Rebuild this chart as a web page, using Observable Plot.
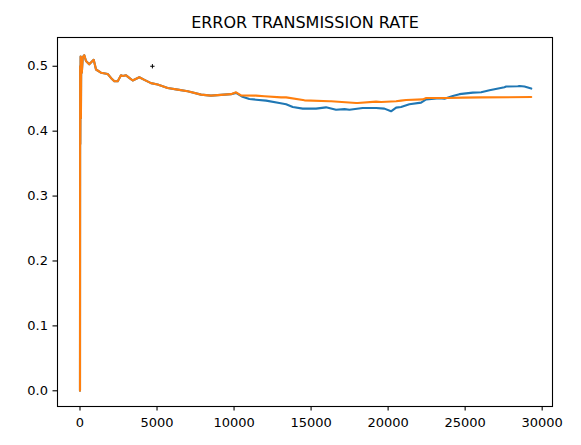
<!DOCTYPE html>
<html>
<head>
<meta charset="utf-8">
<script src="https://cdn.jsdelivr.net/npm/d3@7"></script>
<script src="https://cdn.jsdelivr.net/npm/@observablehq/plot@0.6"></script>
<style>
  html, body { margin: 0; padding: 0; background: #fff; }
  #chart { width: 581px; height: 445px; }
</style>
</head>
<body>
<div id="chart"></div>
<script>
const title = "ERROR TRANSMISSION RATE";

const blueX = [0, 10, 20, 40, 60, 80, 120, 180, 280, 390, 600, 890, 1040, 1360, 1800, 2010, 2230, 2450, 2660, 2770, 2990, 3200, 3420, 3850, 4180, 4610, 5040, 5690, 6340, 6990, 7860, 8500, 9370, 9800, 10130, 10500, 10990, 11430, 12080, 12940, 13380, 13810, 14460, 15320, 15970, 16620, 17170, 17490, 18350, 18460, 19220, 19760, 20190, 20520, 20840, 21380, 22140, 22470, 23330, 23660, 24200, 24630, 25500, 26040, 26580, 27550, 27660, 28420, 28530, 28850, 29290];
const blueY = [0.000, 0.500, 0.380, 0.515, 0.420, 0.510, 0.490, 0.514, 0.517, 0.508, 0.503, 0.510, 0.495, 0.490, 0.488, 0.482, 0.477, 0.477, 0.486, 0.485, 0.486, 0.482, 0.478, 0.483, 0.479, 0.474, 0.472, 0.4665, 0.464, 0.4615, 0.4563, 0.4548, 0.4563, 0.457, 0.459, 0.4535, 0.4495, 0.4485, 0.447, 0.4434, 0.4415, 0.4372, 0.4347, 0.4347, 0.4367, 0.433, 0.434, 0.433, 0.4357, 0.4357, 0.4357, 0.4347, 0.4306, 0.4362, 0.4372, 0.4414, 0.444, 0.449, 0.4506, 0.450, 0.4542, 0.457, 0.4594, 0.4599, 0.463, 0.4676, 0.4687, 0.4691, 0.4696, 0.4687, 0.4656];

const orangeX = [0, 10, 20, 40, 60, 80, 120, 180, 280, 390, 600, 890, 1040, 1360, 1800, 2010, 2230, 2450, 2660, 2770, 2990, 3200, 3420, 3850, 4180, 4610, 5040, 5690, 6340, 6990, 7860, 8500, 9370, 9800, 10130, 10450, 11430, 11970, 13050, 13380, 14570, 16190, 16300, 17920, 18030, 19220, 19550, 20520, 20840, 21170, 22250, 22470, 23880, 24850, 26040, 29290];
const orangeY = [0.000, 0.500, 0.380, 0.515, 0.420, 0.510, 0.490, 0.514, 0.517, 0.508, 0.503, 0.510, 0.495, 0.490, 0.488, 0.482, 0.477, 0.477, 0.486, 0.485, 0.486, 0.482, 0.478, 0.483, 0.479, 0.474, 0.472, 0.4665, 0.464, 0.4615, 0.4563, 0.4548, 0.4563, 0.457, 0.4599, 0.455, 0.4548, 0.4537, 0.452, 0.452, 0.4475, 0.446, 0.446, 0.4434, 0.4434, 0.4455, 0.445, 0.446, 0.447, 0.448, 0.449, 0.451, 0.451, 0.4517, 0.452, 0.4526];

const markerX = [4700];
const markerY = [0.5];

const xTicks = [0, 5000, 10000, 15000, 20000, 25000, 30000];
const yTicks = [0.0, 0.1, 0.2, 0.3, 0.4, 0.5];

const blue = blueX.map((x, i) => ({x, y: blueY[i]}));
const orange = orangeX.map((x, i) => ({x, y: orangeY[i]}));
const marker = markerX.map((x, i) => ({x, y: markerY[i]}));

const chart = Plot.plot({
  width: 581,
  height: 445,
  marginLeft: 57,
  marginRight: 29,
  marginTop: 37,
  marginBottom: 39,
  style: {fontFamily: "DejaVu Sans", fontSize: "13px", color: "#000", background: "#fff", overflow: "visible"},
  x: {domain: [-1460, 30670], label: null},
  y: {domain: [-0.0242, 0.5443], label: null},
  marks: [
    Plot.axisX({ticks: xTicks, tickFormat: "d", tickSize: 4.5, tickPadding: 7, label: null, fontSize: 13, strokeWidth: 1.1}),
    Plot.axisY({ticks: yTicks, tickFormat: ".1f", tickSize: 4.5, tickPadding: 5, label: null, fontSize: 13, strokeWidth: 1.1}),
    Plot.line(blue, {x: "x", y: "y", stroke: "#1f77b4", strokeWidth: 2.1}),
    Plot.line(orange, {x: "x", y: "y", stroke: "#ff7f0e", strokeWidth: 2.1}),
    Plot.dot(marker, {x: "x", y: "y", symbol: "plus", r: 1.5, stroke: "#000", strokeWidth: 1}),
    Plot.frame({stroke: "#000", strokeWidth: 1.1}),
    Plot.text([title], {frameAnchor: "top", dy: -15, lineAnchor: "middle", text: d => d, fontSize: 16, fill: "#000"})
  ]
});
document.getElementById("chart").appendChild(chart);
</script>
</body>
</html>
